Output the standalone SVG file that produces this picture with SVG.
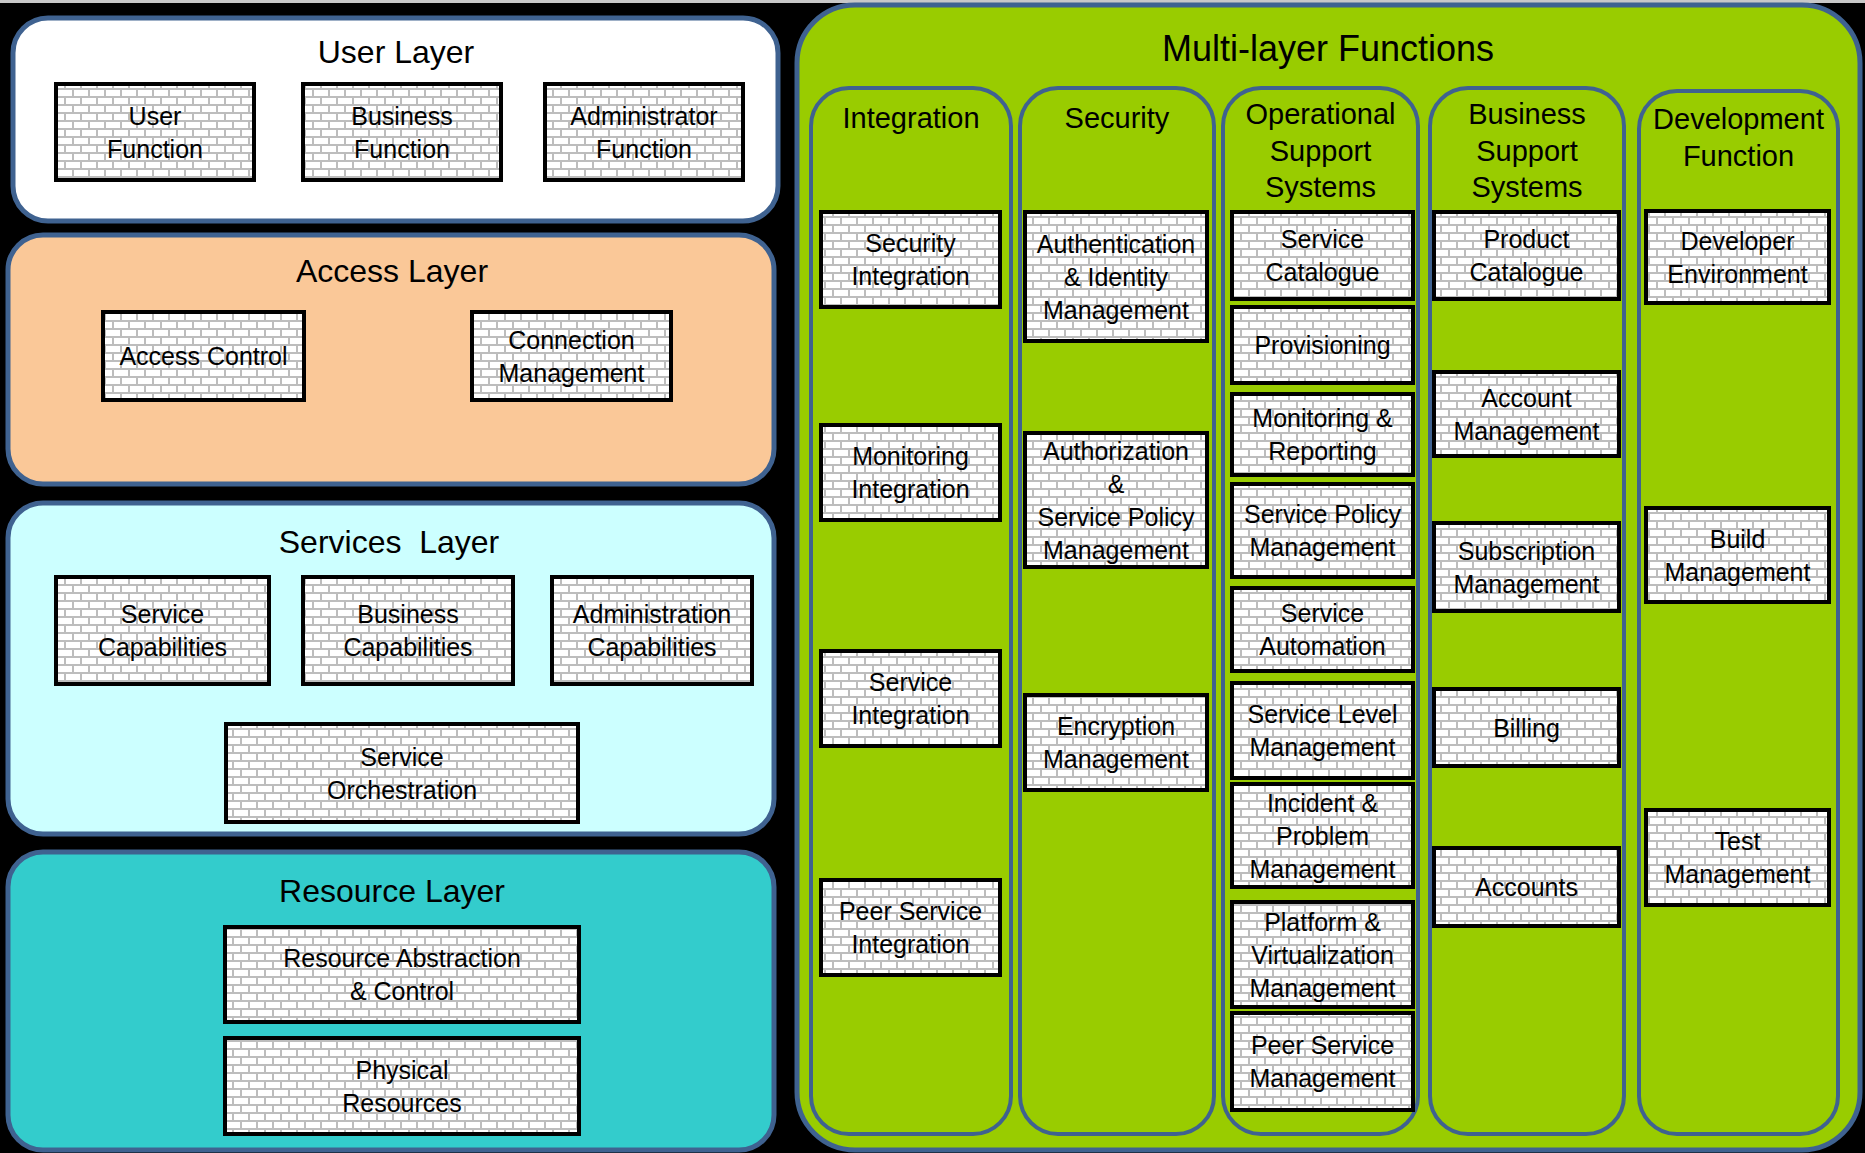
<svg xmlns="http://www.w3.org/2000/svg" width="1865" height="1153" viewBox="0 0 1865 1153">
<defs>
<pattern id="brick" width="16" height="16" patternUnits="userSpaceOnUse">
<rect width="16" height="16" fill="#ffffff"/>
<path d="M0 1H16M0 9H16M1 0V8M9 8V16" stroke="#bdbdbd" stroke-width="2" fill="none"/>
</pattern>
<style>
.box{fill:url(#brick);stroke:#000;stroke-width:4}
.panel{stroke:#3f6290;stroke-width:5}
.col{fill:#99cc00;stroke:#3f6290;stroke-width:4}
text{font-family:'Liberation Sans',Arial,sans-serif;text-anchor:middle;fill:#000}
.t{font-size:25px}
.lt{font-size:32px}
.ct{font-size:29px}
.mt{font-size:36px}
</style>
</defs>
<rect width="1865" height="1153" fill="#000"/>
<rect width="1865" height="3" fill="#c8c8c8"/>

<g id="user-layer">
<rect class="panel" x="13" y="18" width="765" height="203" rx="35" fill="#ffffff"/>
<text class="lt" x="396" y="63">User Layer</text>
<g id="user-function"><rect class="box" x="56" y="84" width="198" height="96"/><text class="t" x="155"><tspan x="155" y="124.5">User</tspan><tspan x="155" y="157.5">Function</tspan></text></g>
<g id="business-function"><rect class="box" x="303" y="84" width="198" height="96"/><text class="t" x="402"><tspan x="402" y="124.5">Business</tspan><tspan x="402" y="157.5">Function</tspan></text></g>
<g id="administrator-function"><rect class="box" x="545" y="84" width="198" height="96"/><text class="t" x="644"><tspan x="644" y="124.5">Administrator</tspan><tspan x="644" y="157.5">Function</tspan></text></g>
</g>

<g id="access-layer">
<rect class="panel" x="8" y="235" width="766" height="249" rx="35" fill="#fac898"/>
<text class="lt" x="392" y="282">Access Layer</text>
<g id="access-control"><rect class="box" x="103" y="312" width="201" height="88"/><text class="t" x="203.5" y="365">Access Control</text></g>
<g id="connection-management"><rect class="box" x="472" y="312" width="199" height="88"/><text class="t" x="571.5"><tspan x="571.5" y="348.5">Connection</tspan><tspan x="571.5" y="381.5">Management</tspan></text></g>
</g>

<g id="services-layer">
<rect class="panel" x="8" y="503" width="766" height="331" rx="35" fill="#ccffff"/>
<text class="lt" x="389" y="553" xml:space="preserve">Services  Layer</text>
<g id="service-capabilities"><rect class="box" x="56" y="577" width="213" height="107"/><text class="t" x="162.5"><tspan x="162.5" y="623">Service</tspan><tspan x="162.5" y="656">Capabilities</tspan></text></g>
<g id="business-capabilities"><rect class="box" x="303" y="577" width="210" height="107"/><text class="t" x="408"><tspan x="408" y="623">Business</tspan><tspan x="408" y="656">Capabilities</tspan></text></g>
<g id="administration-capabilities"><rect class="box" x="552" y="577" width="200" height="107"/><text class="t" x="652"><tspan x="652" y="623">Administration</tspan><tspan x="652" y="656">Capabilities</tspan></text></g>
<g id="service-orchestration"><rect class="box" x="226" y="724" width="352" height="98"/><text class="t" x="402"><tspan x="402" y="765.5">Service</tspan><tspan x="402" y="798.5">Orchestration</tspan></text></g>
</g>

<g id="resource-layer">
<rect class="panel" x="8" y="852" width="766" height="298" rx="35" fill="#33cccc"/>
<text class="lt" x="392" y="902">Resource Layer</text>
<g id="resource-abstraction"><rect class="box" x="225" y="927" width="354" height="95"/><text class="t" x="402"><tspan x="402" y="967">Resource Abstraction</tspan><tspan x="402" y="1000">&amp; Control</tspan></text></g>
<g id="physical-resources"><rect class="box" x="225" y="1038" width="354" height="96"/><text class="t" x="402"><tspan x="402" y="1078.5">Physical</tspan><tspan x="402" y="1111.5">Resources</tspan></text></g>
</g>

<g id="multi-layer-functions">
<rect class="panel" x="797" y="5" width="1063" height="1145" rx="58" fill="#99cc00"/>
<text class="mt" x="1328" y="61">Multi-layer Functions</text>

<g id="integration">
<rect class="col" x="811" y="88" width="200" height="1046" rx="38"/>
<text class="ct" x="911" y="128">Integration</text>
<g id="security-integration"><rect class="box" x="821" y="212" width="179" height="95"/><text class="t" x="910.5"><tspan x="910.5" y="252">Security</tspan><tspan x="910.5" y="285">Integration</tspan></text></g>
<g id="monitoring-integration"><rect class="box" x="821" y="425" width="179" height="95"/><text class="t" x="910.5"><tspan x="910.5" y="465">Monitoring</tspan><tspan x="910.5" y="498">Integration</tspan></text></g>
<g id="service-integration"><rect class="box" x="821" y="651" width="179" height="95"/><text class="t" x="910.5"><tspan x="910.5" y="691">Service</tspan><tspan x="910.5" y="724">Integration</tspan></text></g>
<g id="peer-service-integration"><rect class="box" x="821" y="880" width="179" height="95"/><text class="t" x="910.5"><tspan x="910.5" y="920">Peer Service</tspan><tspan x="910.5" y="953">Integration</tspan></text></g>
</g>

<g id="security">
<rect class="col" x="1020" y="88" width="194" height="1046" rx="38"/>
<text class="ct" x="1117" y="128">Security</text>
<g id="authentication"><rect class="box" x="1025" y="212" width="182" height="129"/><text class="t" x="1116"><tspan x="1116" y="252.5">Authentication</tspan><tspan x="1116" y="285.5">&amp; Identity</tspan><tspan x="1116" y="318.5">Management</tspan></text></g>
<g id="authorization"><rect class="box" x="1025" y="433" width="182" height="134"/><text class="t" x="1116"><tspan x="1116" y="459.5">Authorization</tspan><tspan x="1116" y="492.5">&amp;</tspan><tspan x="1116" y="525.5">Service Policy</tspan><tspan x="1116" y="558.5">Management</tspan></text></g>
<g id="encryption-management"><rect class="box" x="1025" y="695" width="182" height="95"/><text class="t" x="1116"><tspan x="1116" y="735">Encryption</tspan><tspan x="1116" y="768">Management</tspan></text></g>
</g>

<g id="operational-support-systems">
<rect class="col" x="1223" y="88" width="195" height="1046" rx="38"/>
<text class="ct" x="1320.5"><tspan x="1320.5" y="124">Operational</tspan><tspan x="1320.5" y="161">Support</tspan><tspan x="1320.5" y="197">Systems</tspan></text>
<g id="service-catalogue"><rect class="box" x="1232" y="212" width="181" height="87"/><text class="t" x="1322.5"><tspan x="1322.5" y="248">Service</tspan><tspan x="1322.5" y="281">Catalogue</tspan></text></g>
<g id="provisioning"><rect class="box" x="1232" y="307" width="181" height="76"/><text class="t" x="1322.5" y="354">Provisioning</text></g>
<g id="monitoring-reporting"><rect class="box" x="1232" y="394" width="181" height="81"/><text class="t" x="1322.5"><tspan x="1322.5" y="427">Monitoring &amp;</tspan><tspan x="1322.5" y="460">Reporting</tspan></text></g>
<g id="service-policy-management"><rect class="box" x="1232" y="484" width="181" height="93"/><text class="t" x="1322.5"><tspan x="1322.5" y="523">Service Policy</tspan><tspan x="1322.5" y="556">Management</tspan></text></g>
<g id="service-automation"><rect class="box" x="1232" y="588" width="181" height="83"/><text class="t" x="1322.5"><tspan x="1322.5" y="622">Service</tspan><tspan x="1322.5" y="655">Automation</tspan></text></g>
<g id="service-level-management"><rect class="box" x="1232" y="683" width="181" height="95"/><text class="t" x="1322.5"><tspan x="1322.5" y="723">Service Level</tspan><tspan x="1322.5" y="756">Management</tspan></text></g>
<g id="incident-problem-management"><rect class="box" x="1232" y="784" width="181" height="103"/><text class="t" x="1322.5"><tspan x="1322.5" y="811.5">Incident &amp;</tspan><tspan x="1322.5" y="844.5">Problem</tspan><tspan x="1322.5" y="877.5">Management</tspan></text></g>
<g id="platform-virtualization-management"><rect class="box" x="1232" y="902" width="181" height="105"/><text class="t" x="1322.5"><tspan x="1322.5" y="930.5">Platform &amp;</tspan><tspan x="1322.5" y="963.5">Virtualization</tspan><tspan x="1322.5" y="996.5">Management</tspan></text></g>
<g id="peer-service-management"><rect class="box" x="1232" y="1013" width="181" height="97"/><text class="t" x="1322.5"><tspan x="1322.5" y="1054">Peer Service</tspan><tspan x="1322.5" y="1087">Management</tspan></text></g>
</g>

<g id="business-support-systems">
<rect class="col" x="1430" y="88" width="194" height="1046" rx="38"/>
<text class="ct" x="1527"><tspan x="1527" y="124">Business</tspan><tspan x="1527" y="161">Support</tspan><tspan x="1527" y="197">Systems</tspan></text>
<g id="product-catalogue"><rect class="box" x="1434" y="212" width="185" height="87"/><text class="t" x="1526.5"><tspan x="1526.5" y="248">Product</tspan><tspan x="1526.5" y="281">Catalogue</tspan></text></g>
<g id="account-management"><rect class="box" x="1434" y="372" width="185" height="84"/><text class="t" x="1526.5"><tspan x="1526.5" y="406.5">Account</tspan><tspan x="1526.5" y="439.5">Management</tspan></text></g>
<g id="subscription-management"><rect class="box" x="1434" y="523" width="185" height="88"/><text class="t" x="1526.5"><tspan x="1526.5" y="559.5">Subscription</tspan><tspan x="1526.5" y="592.5">Management</tspan></text></g>
<g id="billing"><rect class="box" x="1434" y="689" width="185" height="77"/><text class="t" x="1526.5" y="736.5">Billing</text></g>
<g id="accounts"><rect class="box" x="1434" y="848" width="185" height="78"/><text class="t" x="1526.5" y="896">Accounts</text></g>
</g>

<g id="development-function">
<rect class="col" x="1639" y="91" width="199" height="1043" rx="38"/>
<text class="ct" x="1738.5"><tspan x="1738.5" y="129">Development</tspan><tspan x="1738.5" y="166">Function</tspan></text>
<g id="developer-environment"><rect class="box" x="1646" y="211" width="183" height="92"/><text class="t" x="1737.5"><tspan x="1737.5" y="249.5">Developer</tspan><tspan x="1737.5" y="282.5">Environment</tspan></text></g>
<g id="build-management"><rect class="box" x="1646" y="508" width="183" height="94"/><text class="t" x="1737.5"><tspan x="1737.5" y="547.5">Build</tspan><tspan x="1737.5" y="580.5">Management</tspan></text></g>
<g id="test-management"><rect class="box" x="1646" y="810" width="183" height="95"/><text class="t" x="1737.5"><tspan x="1737.5" y="850">Test</tspan><tspan x="1737.5" y="883">Management</tspan></text></g>
</g>
</g>
</svg>
